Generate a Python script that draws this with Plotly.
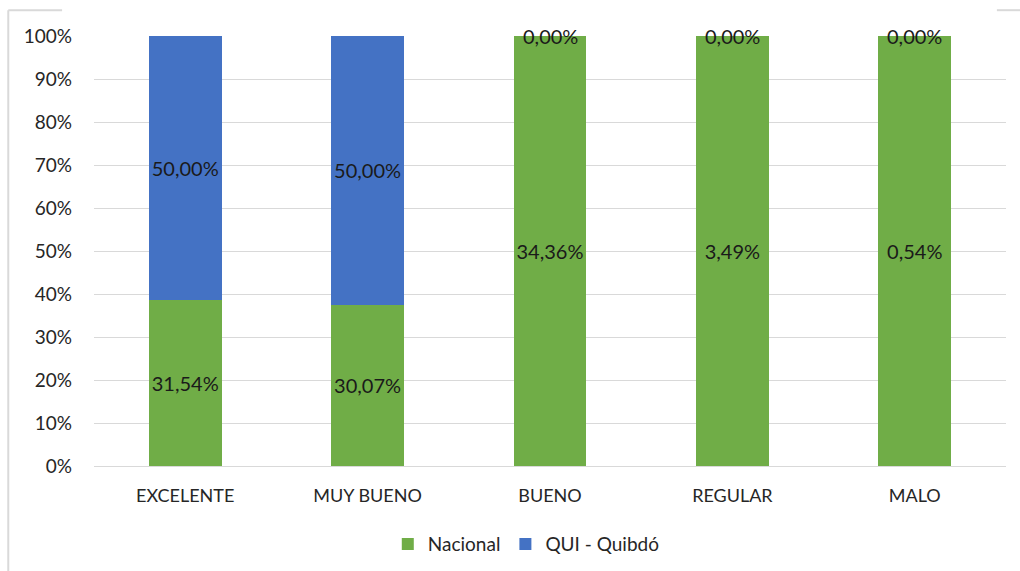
import plotly.graph_objects as go

categories = ["EXCELENTE", "MUY BUENO", "BUENO", "REGULAR", "MALO"]
nacional = [31.54, 30.07, 34.36, 3.49, 0.54]
quibdo = [50.00, 50.00, 0.00, 0.00, 0.00]
y_ticks = [0, 10, 20, 30, 40, 50, 60, 70, 80, 90, 100]

GREEN = "#70AD47"
BLUE = "#4472C4"
FONT = "Lato"
LABEL_SIZE = 20


def fmt(v):
    return f"{v:.2f}".replace(".", ",") + "%"


fig = go.Figure()
fig.add_trace(go.Bar(
    name="Nacional", x=categories, y=nacional,
    marker=dict(color=GREEN, line=dict(width=0)),
    text=[fmt(v) for v in nacional], textposition="inside", textangle=0,
    insidetextanchor="middle", constraintext="none",
    textfont=dict(family=FONT, size=LABEL_SIZE, color="#1a1a1a"),
    hoverinfo="skip",
))
fig.add_trace(go.Bar(
    name="QUI - Quibdó", x=categories, y=quibdo,
    marker=dict(color=BLUE, line=dict(width=0)),
    text=[fmt(v) if v > 0 else "" for v in quibdo], textposition="inside", textangle=0,
    insidetextanchor="middle", constraintext="none",
    textfont=dict(family=FONT, size=LABEL_SIZE, color="#1a1a1a"),
    hoverinfo="skip",
))

# Zero-height segments: label sits on the top of the stack
for cat, v in zip(categories, quibdo):
    if v == 0:
        fig.add_annotation(x=cat, y=100, text=fmt(v), showarrow=False,
                           yanchor="middle", yshift=0,
                           font=dict(family=FONT, size=LABEL_SIZE, color="#1a1a1a"))

fig.update_layout(
    barmode="stack", barnorm="percent", bargap=0.6,
    width=1020, height=571,
    margin=dict(l=94, r=14, t=36, b=105, autoexpand=False),
    paper_bgcolor="white", plot_bgcolor="white",
    font=dict(family=FONT, color="#404040"),
    showlegend=True,
    legend=dict(orientation="h", x=0.474, xanchor="center",
                yref="container", y=0.047, yanchor="middle",
                traceorder="normal",
                font=dict(family=FONT, size=19, color="#262626"),
                itemwidth=30, tracegroupgap=0),
    xaxis=dict(showgrid=False, showline=True, linecolor="#d9d9d9", linewidth=1,
               ticks="", ticklabelstandoff=13,
               tickfont=dict(family=FONT, size=18, color="#262626")),
    yaxis=dict(range=[0, 100], tickvals=y_ticks, ticktext=[f"{t}%" for t in y_ticks],
               showgrid=True, gridcolor="#d9d9d9", gridwidth=1, zeroline=False,
               showline=False, ticks="", ticklabelstandoff=21,
               tickfont=dict(family=FONT, size=19, color="#262626")),
    shapes=[
        dict(type="line", xref="paper", yref="paper", x0=-0.094, x1=-0.094,
             y0=-0.245, y1=1.06, line=dict(color="#d9d9d9", width=2)),
        dict(type="line", xref="paper", yref="paper", x0=-0.094, x1=-0.035,
             y0=1.06, y1=1.06, line=dict(color="#d9d9d9", width=2)),
        dict(type="line", xref="paper", yref="paper", x0=0.99, x1=1.02,
             y0=1.06, y1=1.06, line=dict(color="#d9d9d9", width=2)),
    ],
)

fig.write_html("out.html")
